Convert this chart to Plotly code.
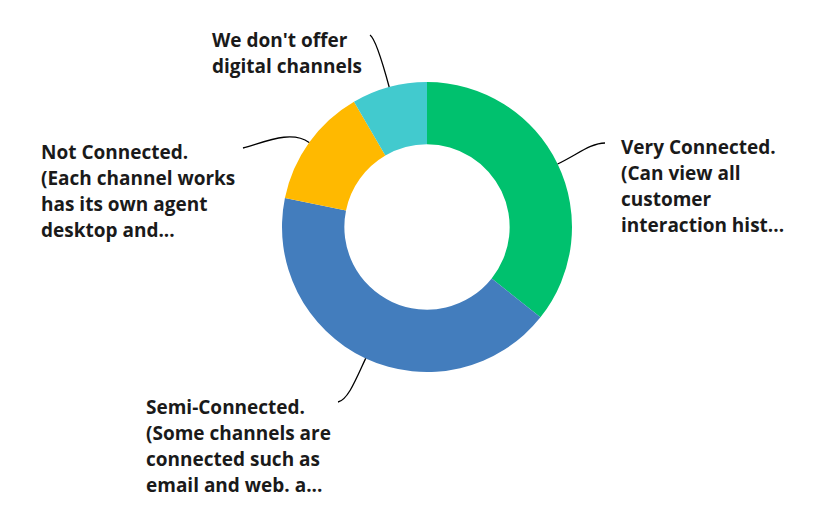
import math
import plotly.graph_objects as go

W, H = 838, 518

labels = [
    "Very Connected. (Can view all customer interaction hist...",
    "Semi-Connected. (Some channels are connected such as email and web. a...",
    "Not Connected. (Each channel works has its own agent desktop and...",
    "We don't offer digital channels",
]
label_lines = [
    ["Very Connected.", "(Can view all", "customer", "interaction hist..."],
    ["Semi-Connected.", "(Some channels are", "connected such as", "email and web. a..."],
    ["Not Connected.", "(Each channel works", "has its own agent", "desktop and..."],
    ["We don't offer", "digital channels"],
]
values = [35.7, 42.5, 13.4, 8.4]
colors = ["#00C16E", "#437DBD", "#FFB900", "#42CACE"]

# layout (pixel) settings, in window pixels
OFF = 8  # page body margin
CX, CY, R = 427, 227, 145
HOLE = 0.57
label_pos = [(619, 147), (144, 407), (39, 152), (210, 40)]      # left x, first line center y
conn_end = [(605, 143), (338, 402), (243, 148), (370, 35)]       # connector end near label
end_dir = [(-14, 0), (10, -2), (22, -6), (6, 4)]                  # handle at end
LINE_H = 26


def px(x):
    return (x - OFF) / W


def py(y):
    return 1 - (y - OFF) / H


fig = go.Figure(go.Pie(
    labels=labels,
    values=values,
    marker=dict(colors=colors, line=dict(width=0)),
    hole=HOLE,
    sort=False,
    direction="clockwise",
    rotation=0,
    textinfo="none",
    hoverinfo="label+percent",
    showlegend=False,
    domain=dict(x=[px(CX - R), px(CX + R)], y=[py(CY + R), py(CY - R)]),
))

annotations = []
shapes = []
total = sum(values)
cum = 0
for i, v in enumerate(values):
    mid = (cum + v / 2) / total * 2 * math.pi
    cum += v
    dx, dy = math.sin(mid), -math.cos(mid)
    sx, sy = CX + R * dx, CY + R * dy
    c1x, c1y = sx + 22 * dx, sy + 22 * dy
    ex, ey = conn_end[i]
    c2x, c2y = ex + end_dir[i][0], ey + end_dir[i][1]
    path = (f"M {px(sx)},{py(sy)} C {px(c1x)},{py(c1y)} "
            f"{px(c2x)},{py(c2y)} {px(ex)},{py(ey)}")
    shapes.append(dict(type="path", xref="paper", yref="paper", path=path,
                       line=dict(color="#000000", width=1.3)))
    lx, ly = label_pos[i]
    for j, line in enumerate(label_lines[i]):
        annotations.append(dict(
            x=px(lx), y=py(ly + j * LINE_H), xref="paper", yref="paper",
            xanchor="left", yanchor="middle", showarrow=False, text=line,
            font=dict(family="Open Sans", size=19, color="#1a1a1a", weight=700),
        ))

fig.update_layout(
    width=W, height=H,
    margin=dict(l=0, r=0, t=0, b=0),
    paper_bgcolor="white", plot_bgcolor="white",
    annotations=annotations, shapes=shapes,
)

fig.write_html("out.html")
